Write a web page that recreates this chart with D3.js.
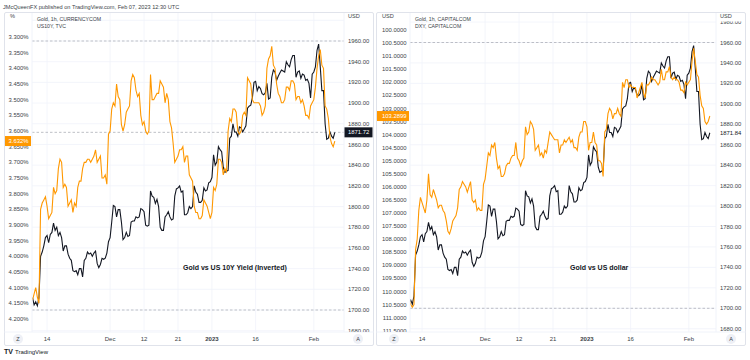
<!DOCTYPE html>
<html><head><meta charset="utf-8">
<script src="https://cdn.jsdelivr.net/npm/d3@7"></script>
<style>body{margin:0;background:#fff}svg{display:block;font-family:"Liberation Sans",Arial,sans-serif}</style>
</head><body><svg id="c" width="750" height="360"></svg>
<script>
// trading days (3 samples per day, 8h apart)
const dayLabels = ["Nov 9","Nov 10","Nov 11","Nov 14","Nov 15","Nov 16","Nov 17","Nov 18","Nov 21","Nov 22","Nov 23","Nov 24","Nov 25","Nov 28","Nov 29","Nov 30",
 "Dec 1","Dec 2","Dec 5","Dec 6","Dec 7","Dec 8","Dec 9","Dec 12","Dec 13","Dec 14","Dec 15","Dec 16","Dec 19","Dec 20","Dec 21","Dec 22","Dec 23","Dec 27","Dec 28","Dec 29","Dec 30",
 "Jan 3","Jan 4","Jan 5","Jan 6","Jan 9","Jan 10","Jan 11","Jan 12","Jan 13","Jan 16","Jan 17","Jan 18","Jan 19","Jan 20","Jan 23","Jan 24","Jan 25","Jan 26","Jan 27","Jan 30","Jan 31",
 "Feb 1","Feb 2","Feb 3","Feb 6","Feb 7"];
const tickDays = [3,16,23,30,37,46,58];
const tickLabels = ["14","Dec","12","21","2023","16","Feb"];

const gold = [
1712,1705,1708, 1704,1712,1752, 1756,1762,1770, 1772,1765,1773, 1775,1784,1777, 1780,1772,1775, 1770,1757,1762, 1762,1754,1750,
1748,1738,1737, 1738,1734,1740, 1740,1732,1748, 1750,1756,1754, 1755,1752,1755, 1757,1745,1741, 1744,1750,1749, 1750,1755,1766,
1770,1785,1801, 1800,1790,1797, 1797,1785,1768, 1770,1775,1771, 1772,1785,1786, 1786,1790,1789, 1790,1798,1797,
1795,1782,1781, 1782,1815,1810, 1809,1803,1807, 1800,1780,1777, 1777,1790,1792, 1795,1790,1787, 1788,1810,1817,
1818,1820,1814, 1815,1792,1792, 1794,1800,1798, 1800,1820,1814, 1812,1804,1804, 1806,1818,1815, 1816,1823,1824,
1828,1850,1840, 1843,1858,1855, 1853,1838,1833, 1834,1835,1866, 1868,1880,1872, 1872,1868,1877, 1876,1872,1875,
1878,1895,1897, 1898,1905,1920, 1921,1912,1916, 1914,1909,1908, 1910,1919,1904, 1905,1925,1932, 1930,1922,1926,
1929,1932,1931, 1930,1940,1937, 1935,1942,1946, 1946,1925,1930, 1931,1924,1928, 1927,1922,1923, 1919,1905,1928,
1930,1935,1951, 1957,1935,1912, 1912,1880,1865, 1866,1872,1868, 1866,1871.72];

const us10y = [
4.14,4.12,4.10, 4.13,4.15,3.85, 3.83,3.82,3.81, 3.84,3.88,3.87, 3.86,3.78,3.80, 3.79,3.72,3.69, 3.70,3.78,3.77, 3.78,3.84,3.83,
3.82,3.86,3.83, 3.84,3.78,3.76, 3.76,3.72,3.70, 3.70,3.69,3.69, 3.70,3.69,3.68, 3.66,3.70,3.69, 3.68,3.75,3.75, 3.74,3.77,3.61,
3.60,3.53,3.51, 3.52,3.45,3.49, 3.50,3.58,3.60, 3.58,3.54,3.53, 3.52,3.44,3.42, 3.43,3.47,3.49, 3.48,3.55,3.58,
3.57,3.60,3.61, 3.60,3.42,3.50, 3.50,3.49,3.48, 3.48,3.44,3.45, 3.46,3.51,3.48, 3.50,3.57,3.59, 3.64,3.70,3.69,
3.68,3.66,3.66, 3.65,3.70,3.68, 3.68,3.74,3.75, 3.76,3.84,3.86, 3.86,3.88,3.88, 3.87,3.82,3.83, 3.84,3.86,3.88,
3.86,3.78,3.79, 3.77,3.69,3.69, 3.70,3.74,3.72, 3.73,3.60,3.56, 3.57,3.53,3.53, 3.54,3.60,3.61, 3.60,3.55,3.54,
3.55,3.43,3.44, 3.45,3.50,3.51, 3.51,3.51,3.51, 3.52,3.55,3.54, 3.52,3.40,3.37, 3.36,3.33,3.39, 3.40,3.45,3.48,
3.49,3.51,3.51, 3.50,3.46,3.46, 3.47,3.44,3.44, 3.45,3.50,3.49, 3.49,3.51,3.50, 3.52,3.55,3.55, 3.56,3.52,3.51,
3.50,3.46,3.40, 3.36,3.34,3.39, 3.40,3.52,3.53, 3.56,3.62,3.64, 3.65,3.632];

const dxy = [
109.9,110.3,110.5, 110.6,110.5,108.4, 108.0,106.9,106.4, 106.6,106.8,107.0, 106.5,105.5,106.3, 106.4,106.1,106.3, 106.5,106.8,106.7, 106.7,106.9,107.0,
107.3,107.7,107.8, 107.6,107.3,107.2, 107.1,106.8,106.1, 106.0,105.8,105.9, 106.0,106.2,106.0, 105.8,106.5,106.6, 106.5,106.9,106.8, 106.9,106.9,105.9,
105.7,105.2,104.7, 104.8,104.4,104.5, 104.3,104.9,105.3, 105.2,105.6,105.6, 105.5,105.2,105.1, 105.1,104.9,104.8, 104.8,104.3,104.9,
105.0,105.2,105.0, 104.9,103.7,104.0, 103.9,103.5,103.6, 103.8,104.6,104.5, 104.4,104.8,104.7, 104.9,104.6,104.7, 104.3,103.9,104.0,
104.1,104.2,104.2, 104.2,104.7,104.4, 104.4,104.2,104.3, 104.2,104.1,104.3, 104.2,104.5,104.5, 104.6,104.1,103.9, 103.9,103.5,103.5,
103.7,104.6,104.3, 104.3,103.9,104.3, 104.4,105.0,105.0, 105.1,105.6,103.9, 103.8,103.2,103.0, 103.1,103.4,103.2, 103.2,103.0,103.2,
103.3,102.0,102.2, 101.9,101.9,102.2, 102.1,102.2,102.2, 102.2,102.6,102.4, 102.2,102.0,102.4, 102.6,102.1,102.1, 102.0,101.8,101.9,
101.9,102.0,102.1, 102.0,101.5,101.9, 101.9,101.6,101.6, 101.4,101.8,101.9, 101.8,101.9,101.9, 102.0,102.3,102.3, 102.4,102.0,102.1,
102.0,101.9,101.2, 100.7,101.2,101.7, 101.8,102.5,102.9, 103.0,103.5,103.6, 103.5,103.2899];

const goldTicks = [1680,1700,1720,1740,1760,1780,1800,1820,1840,1860,1880,1900,1920,1940,1960,1980];
const yieldTicks = [3.30,3.35,3.40,3.45,3.50,3.55,3.60,3.65,3.70,3.75,3.80,3.85,3.90,3.95,4.00,4.05,4.10,4.15,4.20];
const dxyTicks = [100,100.5,101,101.5,102,102.5,103,103.5,104,104.5,105,105.5,106,106.5,107,107.5,108,108.5,109,109.5,110,110.5,111,111.5];

const ORANGE = "#ff9800", BLACK = "#131722", GRID = "#f0f3fa", BORDER = "#e0e3eb", TXT = "#3b3f48";

const svg = d3.select("#c");
svg.append("text").attr("x",3).attr("y",9).attr("font-size",5.6).attr("fill",TXT)
  .text("JMcQueenFX published on TradingView.com, Feb 07, 2023 12:30 UTC");

function panel(cfg, id){
  const g = svg.append("g");
  g.append("rect").attr("x",cfg.fx0).attr("y",12.5).attr("width",cfg.fx1-cfg.fx0).attr("height",333)
    .attr("fill","#fff").attr("stroke",BORDER).attr("rx",1.5);
  const x = d3.scaleLinear().domain([0,64]).range(cfg.xr);
  const yL = d3.scaleLinear().domain(cfg.lDom).range(cfg.lRng);
  const yR = d3.scaleLinear().domain([1700,1960]).range(cfg.rRng);
  const top = 13, bot = 332;
  g.append("clipPath").attr("id","clip"+id).append("rect")
    .attr("x",cfg.pl).attr("y",top).attr("width",cfg.pr-cfg.pl).attr("height",bot-top);
  g.append("clipPath").attr("id","clipR"+id).append("rect")
    .attr("x",cfg.pr).attr("y",cfg.rClipTop).attr("width",32).attr("height",bot-cfg.rClipTop);
  g.append("clipPath").attr("id","clipL"+id).append("rect")
    .attr("x",cfg.fx0).attr("y",21).attr("width",cfg.pl-cfg.fx0).attr("height",bot-21);
  const pg = g.append("g").attr("clip-path",`url(#clip${id})`);
  // grid
  pg.selectAll(".hg").data(goldTicks).join("line").attr("x1",cfg.pl).attr("x2",cfg.pr)
    .attr("y1",d=>yR(d)).attr("y2",d=>yR(d)).attr("stroke",GRID).attr("stroke-width",0.8);
  pg.selectAll(".vg").data(tickDays).join("line").attr("y1",top).attr("y2",bot)
    .attr("x1",d=>x(d)).attr("x2",d=>x(d)).attr("stroke",GRID).attr("stroke-width",0.8);
  // dashed
  pg.selectAll(".dl").data(cfg.dashed).join("line").attr("x1",cfg.pl).attr("x2",cfg.pr)
    .attr("y1",d=>yR(d)).attr("y2",d=>yR(d)).attr("stroke","#a3a6af").attr("stroke-width",0.7)
    .attr("stroke-dasharray","2.5,2");
  // separators
  g.append("line").attr("x1",cfg.pl).attr("x2",cfg.pl).attr("y1",top).attr("y2",bot).attr("stroke",GRID);
  g.append("line").attr("x1",cfg.pr).attr("x2",cfg.pr).attr("y1",top).attr("y2",bot).attr("stroke",GRID);
  g.append("line").attr("x1",cfg.fx0).attr("x2",cfg.fx1).attr("y1",bot).attr("y2",bot).attr("stroke",GRID);
  // series
  const lineR = d3.line().x((d,i)=>x(i/3)).y(d=>yR(d));
  const lineL = d3.line().x((d,i)=>x(i/3)).y(d=>yL(d));
  pg.append("path").datum(gold).attr("d",lineR).attr("fill","none").attr("stroke",BLACK).attr("stroke-width",1.1);
  pg.append("path").datum(cfg.lData).attr("d",lineL).attr("fill","none").attr("stroke",ORANGE).attr("stroke-width",1.1);
  // left axis labels
  g.append("g").attr("clip-path",`url(#clipL${id})`).selectAll("text").data(cfg.lTicks).join("text")
    .attr("x",cfg.pl-3.5).attr("y",d=>yL(d)).attr("dy","0.35em").attr("text-anchor","end")
    .attr("font-size",5.9).attr("fill",TXT).text(cfg.lFmt);
  // right axis labels (only those whose centre lies inside the visible strip)
  g.append("g").attr("clip-path",`url(#clipR${id})`).selectAll("text")
    .data(goldTicks.filter(d=>yR(d) > cfg.rClipTop - 1)).join("text")
    .attr("x",cfg.pr+4).attr("y",d=>yR(d)).attr("dy","0.35em")
    .attr("font-size",5.9).attr("fill",TXT).text(d=>d.toFixed(2));
  // units
  g.append("text").attr("x",cfg.lUnitX).attr("y",18).attr("font-size",5.6).attr("fill",TXT).text(cfg.lUnit);
  g.append("text").attr("x",cfg.pr+4).attr("y",18).attr("font-size",5.6).attr("fill",TXT).text("USD");
  // legend
  g.append("text").attr("x",cfg.pl+5).attr("y",20.5).attr("font-size",5.2).attr("fill",TXT).text(cfg.leg1);
  g.append("text").attr("x",cfg.pl+5).attr("y",27.5).attr("font-size",5.2).attr("fill",TXT).text(cfg.leg2);
  // annotation
  g.append("text").attr("x",cfg.annX).attr("y",269.5).attr("font-size",7).attr("font-weight","bold")
    .attr("fill","#131722").text(cfg.ann);
  // time axis
  g.selectAll(".tl").data(tickDays).join("text").attr("x",d=>x(d)).attr("y",341)
    .attr("text-anchor","middle").attr("font-size",6).attr("fill",TXT)
    .attr("font-weight",(d,i)=>tickLabels[i]==="2023"?"bold":"normal").text((d,i)=>tickLabels[i]);
  [[cfg.zX,"Z"],[cfg.aX,"A"]].forEach(([cx,t])=>{
    g.append("circle").attr("cx",cx).attr("cy",339).attr("r",5).attr("fill","#eef0f6");
    g.append("text").attr("x",cx).attr("y",341).attr("text-anchor","middle").attr("font-size",5.5).attr("fill",TXT).text(t);
  });
  // last-value labels
  const lv = cfg.lLast;
  g.append("rect").attr("x",cfg.fx0+0.5).attr("y",yL(lv)-5).attr("width",cfg.pl-cfg.fx0-1.5).attr("height",10).attr("fill",ORANGE);
  g.append("text").attr("x",cfg.pl-3.5).attr("y",yL(lv)).attr("dy","0.35em").attr("text-anchor","end")
    .attr("font-size",5.9).attr("fill","#fff").text(cfg.lFmt(lv));
  if(cfg.goldBox){
    g.append("rect").attr("x",cfg.pr+0.5).attr("y",yR(cfg.goldLast)-5).attr("width",28).attr("height",10).attr("fill",BLACK);
    g.append("text").attr("x",cfg.pr+4).attr("y",yR(cfg.goldLast)).attr("dy","0.35em")
      .attr("font-size",5.9).attr("fill","#fff").text(cfg.goldLast.toFixed(2));
  } else {
    g.append("rect").attr("x",cfg.pr+1).attr("y",yR(cfg.goldLast)-4).attr("width",26).attr("height",8).attr("fill","#fff");
    g.append("text").attr("x",cfg.pr+4).attr("y",yR(cfg.goldLast)).attr("dy","0.35em")
      .attr("font-size",5.9).attr("fill",BLACK).text(cfg.goldLast.toFixed(2));
  }
}

panel({fx0:4.5, fx1:373.5, pl:32, pr:344, xr:[32.5,342.9],
  lDom:[3.30,4.20], lRng:[37,319], rRng:[310,41], lData:us10y, lTicks:yieldTicks,
  lFmt:d=>d.toFixed(3)+"%", lUnit:"%", lUnitX:10, leg1:"Gold, 1h, CURRENCYCOM", leg2:"US10Y, TVC",
  ann:"Gold vs US 10Y Yield (Inverted)", annX:183, zX:18, aX:358, lLast:3.632, rClipTop:26,
  goldLast:1871.72, goldBox:true, dashed:[1960,1871.72,1700]}, 1);

panel({fx0:376.5, fx1:745.5, pl:410, pr:716, xr:[407.5,717.9],
  lDom:[100,111.5], lRng:[30,330.7], rRng:[308.3,42.5], lData:dxy, lTicks:dxyTicks,
  lFmt:d=>d.toFixed(4), lUnit:"USD", lUnitX:382, leg1:"Gold, 1h, CAPITALCOM", leg2:"DXY, CAPITALCOM",
  ann:"Gold vs US dollar", annX:570, zX:394, aX:731, lLast:103.2899, rClipTop:21.5,
  goldLast:1871.84, goldBox:false, dashed:[1960,1700]}, 2);

// TradingView logo
const lg = svg.append("g");
lg.append("text").attr("x",4).attr("y",354).attr("font-size",7).attr("font-weight","bold").attr("fill","#131722").text("TV");
lg.append("text").attr("x",15).attr("y",354).attr("font-size",6).attr("fill","#131722").text("TradingView");
</script></body></html>
